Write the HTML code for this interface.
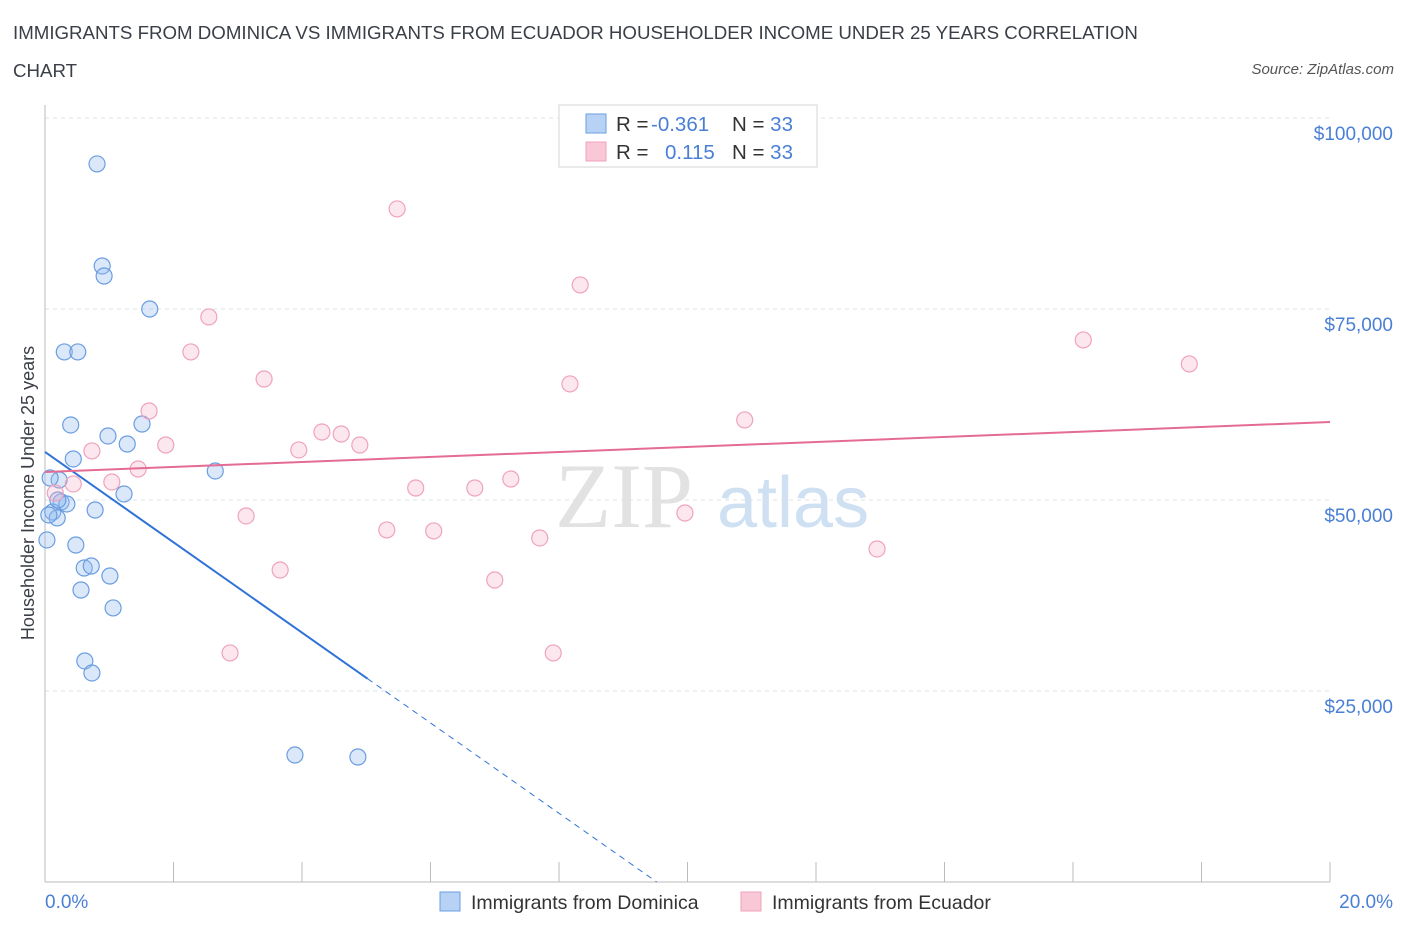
<!DOCTYPE html>
<html><head><meta charset="utf-8">
<style>
body{margin:0;background:#fff;font-family:"Liberation Sans",sans-serif;}
#wrap{position:relative;width:1406px;height:930px;overflow:hidden;}
.t{position:absolute;}
</style></head>
<body>
<div id="wrap">
<div class="t" style="left:13px;top:14px;font-size:18.7px;color:#3a3f47;line-height:38px;width:1150px;">IMMIGRANTS FROM DOMINICA VS IMMIGRANTS FROM ECUADOR HOUSEHOLDER INCOME UNDER 25 YEARS CORRELATION CHART</div>
<div class="t" style="right:12px;top:61px;font-size:15px;color:#555;font-style:italic;">Source: ZipAtlas.com</div>
<svg id="svg" width="1406" height="930" style="position:absolute;left:0;top:0"></svg>
</div>
<script>
const xTicksPct=[0,20];
const yTicks=[25000,50000,75000,100000];
const yTickLabels=["$25,000","$50,000","$75,000","$100,000"];
const blueX=[0.81,0.89,0.92,1.63,0.30,0.51,0.40,1.51,0.98,1.28,0.44,2.65,0.22,0.08,0.25,0.34,1.23,0.12,0.19,0.78,0.03,0.48,0.61,0.72,1.01,0.56,1.06,0.62,0.73,3.89,4.87,0.20,0.06];
const blueY=[93990,80630,79320,75000,69380,69380,59820,59950,58380,57330,55370,53800,52620,52880,49740,49480,50790,48430,47650,48690,44770,44110,41100,41360,40050,38220,35870,28930,27360,16620,16360,50000,48040];
const pinkX=[5.48,8.33,2.55,2.27,16.16,17.81,3.41,8.17,1.62,10.89,1.88,4.31,4.61,4.90,3.95,0.73,1.45,1.04,0.44,7.25,5.77,6.69,3.13,9.96,5.32,6.05,7.70,12.95,7.00,3.66,2.88,7.91,0.16];
const pinkY=[88100,78150,73960,69380,70950,67810,65840,65190,61650,60480,57200,58900,58640,57200,56550,56420,54060,52360,52100,52750,51570,51570,47910,48300,46080,45950,45030,43590,39530,40840,29980,29980,50920];
const blueLine=[56290,-5912];
const pinkLine=[53670,327];
const X=p=>45+p*(1285/20);
const Y=v=>882-v*(191/25000);
const svg=document.getElementById('svg');
const NS='http://www.w3.org/2000/svg';
function mk(tag,attrs,parent){const e=document.createElementNS(NS,tag);for(const k in attrs)e.setAttribute(k,attrs[k]);(parent||svg).appendChild(e);return e;}
let w1=mk('text',{x:555,y:527,'font-family':'Liberation Serif,serif','font-size':92,fill:'#e2e2e2'});w1.textContent='ZIP';


let w2=mk('text',{x:717,y:527,'font-family':'Liberation Sans,sans-serif','font-size':72,fill:'#cfe0f3'});w2.textContent='atlas';


yTicks.forEach((v,i)=>{
 let g=mk('line',{x1:45,x2:1330,y1:Y(v),y2:Y(v),stroke:'#dde0e4','stroke-dasharray':'4,4'});
 
 
 let t=mk('text',{x:1393,y:Y(v)+22,'text-anchor':'end','font-size':19,fill:'#4a7fd6'});t.textContent=yTickLabels[i];
 
 
});
let ax=mk('line',{x1:45,x2:1330,y1:882,y2:882,stroke:'#bbb'});


let ay=mk('line',{x1:45,x2:45,y1:105,y2:882,stroke:'#bbb'});


for(let i=0;i<=10;i++){let tk=mk('line',{x1:X(i*2),x2:X(i*2),y1:862,y2:882,stroke:'#bbb'});
 
 }
xTicksPct.forEach((p,i)=>{let t=mk('text',{x:i?1393:45,y:908,'text-anchor':i?'end':'start','font-size':19,fill:'#4a7fd6'});t.textContent=p.toFixed(1)+'%';
 
 });
let yl=mk('text',{x:0,y:0,transform:'translate(34,493) rotate(-90)','text-anchor':'middle','font-size':18,fill:'#3a3f47'});yl.textContent='Householder Income Under 25 years';


blueX.forEach((x,i)=>{let c=mk('circle',{cx:X(x),cy:Y(blueY[i]),r:8,fill:'rgba(150,190,240,0.35)',stroke:'#6a9de0','stroke-width':1.2});
 
 });
pinkX.forEach((x,i)=>{let c=mk('circle',{cx:X(x),cy:Y(pinkY[i]),r:8,fill:'rgba(245,175,200,0.3)',stroke:'#f0a2bc','stroke-width':1.2});
 
 });
const bx0=0,bx1=5.02,bxEnd=-blueLine[0]/blueLine[1];
let bl=mk('line',{x1:X(bx0),y1:Y(blueLine[0]),x2:X(bx1),y2:Y(blueLine[0]+blueLine[1]*bx1),stroke:'#2f73d8','stroke-width':2});


let bd=mk('line',{x1:X(bx1),y1:Y(blueLine[0]+blueLine[1]*bx1),x2:X(bxEnd),y2:Y(0),stroke:'#2f73d8','stroke-width':1,'stroke-dasharray':'6,5'});


let pl=mk('line',{x1:X(0),y1:Y(pinkLine[0]),x2:X(20),y2:Y(pinkLine[0]+pinkLine[1]*20),stroke:'#e46b92','stroke-width':2});


let lb=mk('rect',{x:559,y:105,width:258,height:62,fill:'#fff',stroke:'#d5d5d5'});


[[123,'#b8d2f5','#6a9de0','-0.361'],[151,'#f9c8d6','#f0a2bc','0.115']].forEach((r,i)=>{
 let s=mk('rect',{x:586,y:r[0]-9,width:20,height:19,fill:r[1],stroke:r[2]});
 
 
 let t=mk('text',{x:616,y:r[0]+8,'font-size':20.5,fill:'#333'});
 t.innerHTML='R = <tspan fill="#4a7fd6" x="'+(i?665:651)+'">'+r[3]+'</tspan><tspan x="732" fill="#333">N = </tspan><tspan fill="#4a7fd6">33</tspan>';
 
 
});
[[440,'#b8d2f5','#6a9de0','Immigrants from Dominica','legend-dominica'],[741,'#f9c8d6','#f0a2bc','Immigrants from Ecuador','legend-ecuador']].forEach(r=>{
 let s=mk('rect',{x:r[0],y:892,width:20,height:19,fill:r[1],stroke:r[2]});
 
 
 let t=mk('text',{x:r[0]+31,y:909,'font-size':19.5,fill:'#333'});t.textContent=r[3];
 
 
});
</script>
</body></html>
